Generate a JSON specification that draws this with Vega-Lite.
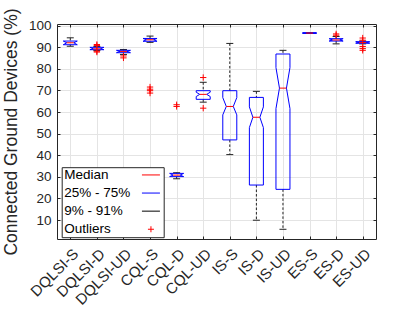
{
  "$schema": "https://vega.github.io/schema/vega-lite/v6.json",
  "width": 319,
  "height": 215,
  "autosize": {"type": "none"},
  "padding": {"left": 57, "top": 24, "right": 39, "bottom": 73},
  "background": "white",
  "datasets": {
    "stats": [
      {"cat": "DQLSI-S", "q1": 91.2, "med": 92.1, "q3": 92.9, "nlo": 91.2, "nhi": 92.9, "wlo": 90.5, "whi": 94.4},
      {"cat": "DQLSI-D", "q1": 88.9, "med": 89.3, "q3": 90.0, "nlo": 88.9, "nhi": 90.0, "wlo": 88.5, "whi": 90.4},
      {"cat": "DQLSI-UD", "q1": 87.5, "med": 88.1, "q3": 88.6, "nlo": 87.5, "nhi": 88.6, "wlo": 86.7, "whi": 89.0},
      {"cat": "CQL-S", "q1": 92.8, "med": 93.5, "q3": 94.1, "nlo": 92.8, "nhi": 94.1, "wlo": 92.3, "whi": 95.2},
      {"cat": "CQL-D", "q1": 30.1, "med": 30.8, "q3": 31.6, "nlo": 30.1, "nhi": 31.6, "wlo": 29.1, "whi": 31.9},
      {"cat": "CQL-UD", "q1": 65.9, "med": 68.2, "q3": 69.9, "nlo": 67.2, "nhi": 69.2, "wlo": 64.6, "whi": 73.8},
      {"cat": "IS-S", "q1": 47.1, "med": 62.6, "q3": 69.9, "nlo": 58.7, "nhi": 66.7, "wlo": 40.3, "whi": 91.8},
      {"cat": "IS-D", "q1": 26.2, "med": 57.6, "q3": 66.8, "nlo": 52.8, "nhi": 62.4, "wlo": 9.9, "whi": 69.6},
      {"cat": "IS-UD", "q1": 24.2, "med": 71.1, "q3": 86.9, "nlo": 61.6, "nhi": 80.6, "wlo": 5.7, "whi": 88.6},
      {"cat": "ES-S", "q1": 96.5, "med": 96.6, "q3": 96.7, "nlo": 96.5, "nhi": 96.7, "wlo": 96.5, "whi": 96.7},
      {"cat": "ES-D", "q1": 92.9, "med": 93.4, "q3": 94.0, "nlo": 92.9, "nhi": 94.0, "wlo": 91.6, "whi": 95.0},
      {"cat": "ES-UD", "q1": 91.9, "med": 92.2, "q3": 92.6, "nlo": 91.9, "nhi": 92.6, "wlo": 91.6, "whi": 92.9}
    ],
    "outliers": [
      {"cat": "DQLSI-D", "v": 91.3}, {"cat": "DQLSI-D", "v": 90.8}, {"cat": "DQLSI-D", "v": 88.2}, {"cat": "DQLSI-D", "v": 87.8},
      {"cat": "DQLSI-UD", "v": 86.0}, {"cat": "DQLSI-UD", "v": 85.1},
      {"cat": "CQL-S", "v": 71.6}, {"cat": "CQL-S", "v": 70.6}, {"cat": "CQL-S", "v": 69.9}, {"cat": "CQL-S", "v": 68.8},
      {"cat": "CQL-D", "v": 63.4}, {"cat": "CQL-D", "v": 62.6},
      {"cat": "CQL-UD", "v": 76.0}, {"cat": "CQL-UD", "v": 61.8},
      {"cat": "ES-D", "v": 96.2}, {"cat": "ES-D", "v": 95.6},
      {"cat": "ES-UD", "v": 94.3}, {"cat": "ES-UD", "v": 93.3}, {"cat": "ES-UD", "v": 90.4}, {"cat": "ES-UD", "v": 89.4}, {"cat": "ES-UD", "v": 88.6}
    ],
    "legend": [
      {"k": "Median"}, {"k": "25% - 75%"}, {"k": "9% - 91%"}, {"k": "Outliers"}
    ]
  },
  "config": {
    "font": "Liberation Sans",
    "view": {"stroke": null},
    "axis": {
      "domainColor": "#262626",
      "tickColor": "#262626",
      "labelColor": "#262626",
      "titleColor": "#262626",
      "labelFont": "Liberation Sans",
      "titleFont": "Liberation Sans",
      "gridColor": "#e4e4e4",
      "gridWidth": 1
    }
  },
  "resolve": {"axis": {"x": "independent", "y": "independent"}},
  "layer": [
    {
      "data": {"name": "stats"},
      "mark": {"type": "rule", "color": "#222222", "strokeDash": [2.5, 2], "strokeWidth": 1},
      "encoding": {
        "x": {"field": "cat", "type": "ordinal", "scale": {"type": "point", "padding": 0.5, "domain": ["DQLSI-S","DQLSI-D","DQLSI-UD","CQL-S","CQL-D","CQL-UD","IS-S","IS-D","IS-UD","ES-S","ES-D","ES-UD"]},
          "axis": {"orient": "bottom", "grid": true, "title": null, "tickSize": -3, "labelAngle": -45, "labelAlign": "right", "labelBaseline": "top", "labelPadding": 10, "labelFontSize": 15, "labelOverlap": false}},
        "y": {"field": "whi", "type": "quantitative", "scale": {"domain": [1.2, 100.8], "nice": false, "zero": false},
          "axis": {"orient": "left", "values": [10,20,30,40,50,60,70,80,90,100], "grid": true, "tickSize": -3, "labelPadding": 9, "labelFontSize": 13.5, "labelOverlap": false, "title": "Connected Ground Devices (%)", "titleFontSize": 17.5, "titleFontWeight": "normal", "titlePadding": 8}},
        "y2": {"field": "q3"}
      }
    },
    {
      "data": {"name": "stats"},
      "mark": {"type": "rule", "color": "#222222", "strokeDash": [2.5, 2], "strokeWidth": 1},
      "encoding": {
        "x": {"field": "cat", "type": "ordinal", "scale": {"type": "point", "padding": 0.5, "domain": ["DQLSI-S","DQLSI-D","DQLSI-UD","CQL-S","CQL-D","CQL-UD","IS-S","IS-D","IS-UD","ES-S","ES-D","ES-UD"]},
          "axis": {"orient": "top", "grid": false, "labels": false, "title": null, "tickSize": -3}},
        "y": {"field": "q1", "type": "quantitative", "scale": {"domain": [1.2, 100.8], "nice": false, "zero": false},
          "axis": {"orient": "right", "values": [10,20,30,40,50,60,70,80,90,100], "grid": false, "labels": false, "tickSize": -3, "title": null}},
        "y2": {"field": "wlo"}
      }
    },
    {
      "data": {"name": "stats"},
      "mark": {"type": "rule", "color": "#222222", "strokeWidth": 1, "xOffset": -3.5, "x2Offset": 3.5},
      "encoding": {
        "x": {"field": "cat", "type": "ordinal", "axis": null},
        "x2": {"field": "cat"},
        "y": {"field": "whi", "type": "quantitative", "axis": null}
      }
    },
    {
      "data": {"name": "stats"},
      "mark": {"type": "rule", "color": "#222222", "strokeWidth": 1, "xOffset": -3.5, "x2Offset": 3.5},
      "encoding": {
        "x": {"field": "cat", "type": "ordinal", "axis": null},
        "x2": {"field": "cat"},
        "y": {"field": "wlo", "type": "quantitative", "axis": null}
      }
    },
    {
      "data": {"name": "stats"},
      "mark": {"type": "rule", "color": "#0000ff", "strokeWidth": 1, "xOffset": -7, "x2Offset": 7},
      "encoding": {
        "x": {"field": "cat", "type": "ordinal", "axis": null},
        "x2": {"field": "cat"},
        "y": {"field": "q3", "type": "quantitative", "axis": null}
      }
    },
    {
      "data": {"name": "stats"},
      "mark": {"type": "rule", "color": "#0000ff", "strokeWidth": 1, "xOffset": -7, "x2Offset": 7},
      "encoding": {
        "x": {"field": "cat", "type": "ordinal", "axis": null},
        "x2": {"field": "cat"},
        "y": {"field": "q1", "type": "quantitative", "axis": null}
      }
    },
    {
      "data": {"name": "stats"},
      "mark": {"type": "rule", "color": "#0000ff", "strokeWidth": 1, "xOffset": -7},
      "encoding": {
        "x": {"field": "cat", "type": "ordinal", "axis": null},
        "y": {"field": "q1", "type": "quantitative", "axis": null},
        "y2": {"field": "nlo"}
      }
    },
    {
      "data": {"name": "stats"},
      "mark": {"type": "rule", "color": "#0000ff", "strokeWidth": 1, "xOffset": -7},
      "encoding": {
        "x": {"field": "cat", "type": "ordinal", "axis": null},
        "y": {"field": "nhi", "type": "quantitative", "axis": null},
        "y2": {"field": "q3"}
      }
    },
    {
      "data": {"name": "stats"},
      "mark": {"type": "rule", "color": "#0000ff", "strokeWidth": 1, "xOffset": 7},
      "encoding": {
        "x": {"field": "cat", "type": "ordinal", "axis": null},
        "y": {"field": "q1", "type": "quantitative", "axis": null},
        "y2": {"field": "nlo"}
      }
    },
    {
      "data": {"name": "stats"},
      "mark": {"type": "rule", "color": "#0000ff", "strokeWidth": 1, "xOffset": 7},
      "encoding": {
        "x": {"field": "cat", "type": "ordinal", "axis": null},
        "y": {"field": "nhi", "type": "quantitative", "axis": null},
        "y2": {"field": "q3"}
      }
    },
    {
      "data": {"name": "stats"},
      "mark": {"type": "rule", "color": "#0000ff", "strokeWidth": 1, "xOffset": -7, "x2Offset": -3.5},
      "encoding": {
        "x": {"field": "cat", "type": "ordinal", "axis": null},
        "x2": {"field": "cat"},
        "y": {"field": "nlo", "type": "quantitative", "axis": null},
        "y2": {"field": "med"}
      }
    },
    {
      "data": {"name": "stats"},
      "mark": {"type": "rule", "color": "#0000ff", "strokeWidth": 1, "xOffset": -3.5, "x2Offset": -7},
      "encoding": {
        "x": {"field": "cat", "type": "ordinal", "axis": null},
        "x2": {"field": "cat"},
        "y": {"field": "med", "type": "quantitative", "axis": null},
        "y2": {"field": "nhi"}
      }
    },
    {
      "data": {"name": "stats"},
      "mark": {"type": "rule", "color": "#0000ff", "strokeWidth": 1, "xOffset": 7, "x2Offset": 3.5},
      "encoding": {
        "x": {"field": "cat", "type": "ordinal", "axis": null},
        "x2": {"field": "cat"},
        "y": {"field": "nlo", "type": "quantitative", "axis": null},
        "y2": {"field": "med"}
      }
    },
    {
      "data": {"name": "stats"},
      "mark": {"type": "rule", "color": "#0000ff", "strokeWidth": 1, "xOffset": 3.5, "x2Offset": 7},
      "encoding": {
        "x": {"field": "cat", "type": "ordinal", "axis": null},
        "x2": {"field": "cat"},
        "y": {"field": "med", "type": "quantitative", "axis": null},
        "y2": {"field": "nhi"}
      }
    },
    {
      "data": {"name": "stats"},
      "mark": {"type": "rule", "color": "#ff0000", "strokeWidth": 1, "xOffset": -3.5, "x2Offset": 3.5},
      "encoding": {
        "x": {"field": "cat", "type": "ordinal", "axis": null},
        "x2": {"field": "cat"},
        "y": {"field": "med", "type": "quantitative", "axis": null}
      }
    },
    {
      "data": {"name": "outliers"},
      "mark": {"type": "point", "shape": "M-1,0L1,0M0,-1L0,1", "filled": false, "color": "#ff0000", "size": 40, "strokeWidth": 1, "opacity": 1},
      "encoding": {
        "x": {"field": "cat", "type": "ordinal", "axis": null},
        "y": {"field": "v", "type": "quantitative", "axis": null}
      }
    },
    {
      "data": {"name": "legend"},
      "mark": {"type": "point", "filled": false, "opacity": 0},
      "encoding": {
        "color": {"field": "k", "type": "nominal",
          "scale": {"domain": ["Median", "25% - 75%", "9% - 91%", "Outliers"], "range": ["#ff0000", "#0000ff", "#000000", "#ff0000"]},
          "legend": {"title": null, "orient": "none", "legendX": 4.7, "legendY": 143.2, "fillColor": "white", "strokeColor": "#262626", "padding": 1, "symbolSize": 36, "symbolStrokeWidth": 1, "symbolOpacity": 1, "labelFontSize": 13.5, "labelColor": "#000000", "labelFont": "Liberation Sans", "rowPadding": 3.1, "labelOffset": -93.5, "symbolOffset": 81.5}},
        "shape": {"field": "k", "type": "nominal",
          "scale": {"domain": ["Median", "25% - 75%", "9% - 91%", "Outliers"], "range": ["M-3,0L3,0", "M-3,0L3,0", "M-3,0L3,0", "M-1,0L1,0M0,-1L0,1"]},
          "legend": {"title": null, "orient": "none", "legendX": 4.7, "legendY": 143.2, "fillColor": "white", "strokeColor": "#262626", "padding": 1, "symbolSize": 36, "symbolStrokeWidth": 1, "symbolOpacity": 1, "labelFontSize": 13.5, "labelColor": "#000000", "labelFont": "Liberation Sans", "rowPadding": 3.1, "labelOffset": -93.5, "symbolOffset": 81.5}}
      }
    }
  ]
}
